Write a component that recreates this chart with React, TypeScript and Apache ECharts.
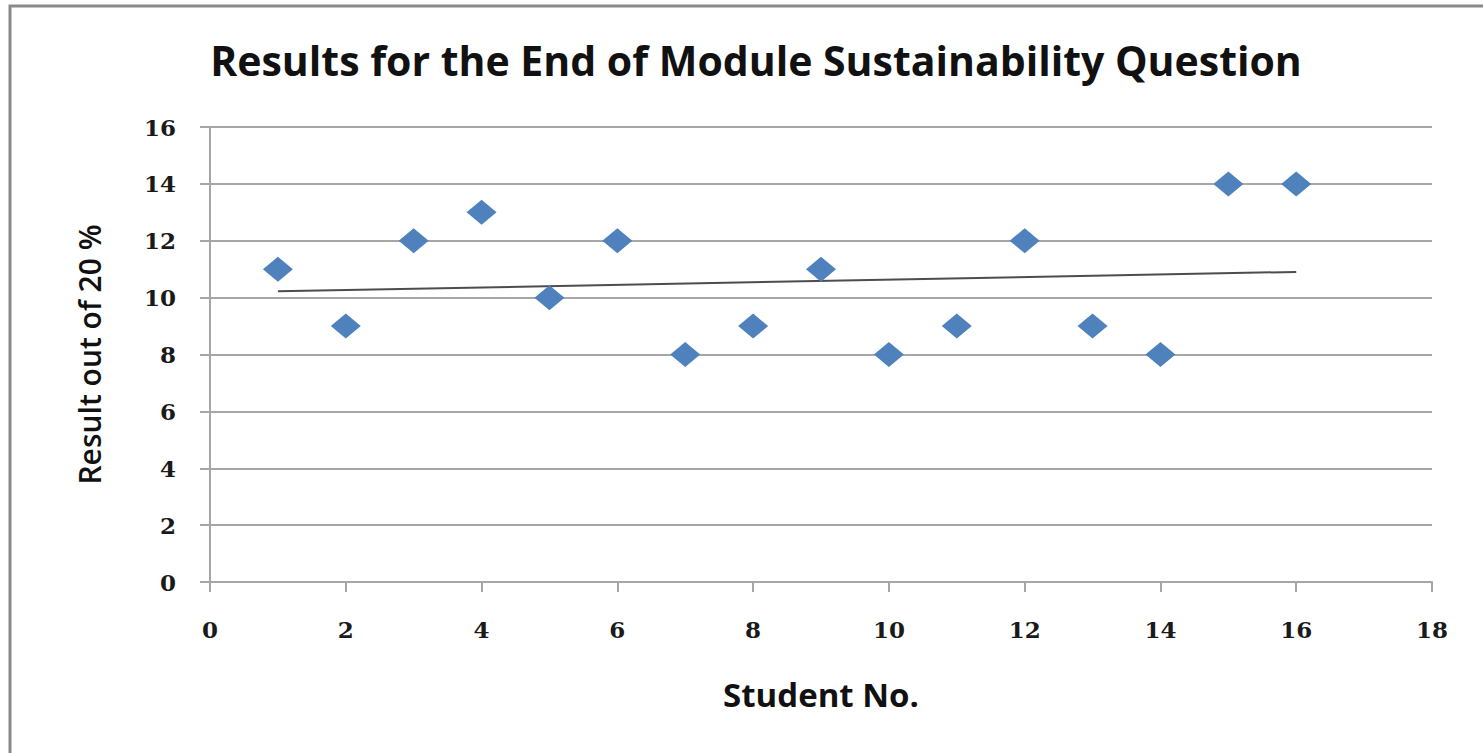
import React, { useEffect, useRef } from "react";
import * as echarts from "echarts";

const studentNo: number[] = [1, 2, 3, 4, 5, 6, 7, 8, 9, 10, 11, 12, 13, 14, 15, 16];
const results: number[] = [11, 9, 12, 13, 10, 12, 8, 9, 11, 8, 9, 12, 9, 8, 14, 14];
const titleText = "Results for the End of Module Sustainability Question";
const xName = "Student No.";
const yName = "Result out of 20 %";

function linearFit(xs: number[], ys: number[]) {
  const n = xs.length;
  const mx = xs.reduce((a, b) => a + b, 0) / n;
  const my = ys.reduce((a, b) => a + b, 0) / n;
  let sxy = 0;
  let sxx = 0;
  for (let i = 0; i < n; i++) {
    sxy += (xs[i] - mx) * (ys[i] - my);
    sxx += (xs[i] - mx) * (xs[i] - mx);
  }
  const slope = sxy / sxx;
  const intercept = my - slope * mx;
  return { slope, intercept };
}

export default function App() {
  const ref = useRef<HTMLDivElement>(null);
  useEffect(() => {
    if (!ref.current) return;
    const chart = echarts.init(ref.current, undefined, { renderer: "svg" });
    const fit = linearFit(studentNo, results);
    const x0 = studentNo[0];
    const x1 = studentNo[studentNo.length - 1];
    const trend = [
      [x0, fit.intercept + fit.slope * x0],
      [x1, fit.intercept + fit.slope * x1],
    ];
    const tickFont = {
      fontFamily: "DejaVu Serif",
      fontWeight: "bold" as const,
      fontSize: 23,
      color: "#1a1a1a",
    };
    chart.setOption({
      animation: false,
      backgroundColor: "#ffffff",
      title: {
        text: titleText,
        left: 751,
        top: 55,
        textAlign: "center",
        textVerticalAlign: "middle",
        textStyle: {
          fontFamily: "Open Sans",
          fontWeight: "bold",
          fontSize: 41,
          color: "#111111",
        },
      },
      graphic: [
        {
          type: "rect",
          shape: { x: 10, y: 6, width: 1520, height: 800 },
          style: { fill: "none", stroke: "#8a8a8a", lineWidth: 3 },
          silent: true,
        },
      ],
      grid: { left: 210, right: 51, top: 127, bottom: 171 },
      xAxis: {
        type: "value",
        min: 0,
        max: 18,
        interval: 2,
        name: xName,
        nameLocation: "middle",
        nameGap: 96,
        nameTextStyle: {
          fontFamily: "Open Sans",
          fontWeight: "bold",
          fontSize: 33,
          color: "#111111",
        },
        axisLine: { lineStyle: { color: "#a6a6a6", width: 2 } },
        axisTick: { show: true, length: 10, lineStyle: { color: "#a6a6a6", width: 2 } },
        axisLabel: { ...tickFont, margin: 36 },
        splitLine: { show: false },
      },
      yAxis: {
        type: "value",
        min: 0,
        max: 16,
        interval: 2,
        name: yName,
        nameLocation: "middle",
        nameGap: 106,
        nameTextStyle: {
          fontFamily: "Open Sans",
          fontWeight: 600,
          fontSize: 30,
          color: "#111111",
        },
        axisLine: { show: true, lineStyle: { color: "#a6a6a6", width: 2 } },
        axisTick: { show: true, length: 10, lineStyle: { color: "#a6a6a6", width: 2 } },
        axisLabel: { ...tickFont, margin: 34 },
        splitLine: { show: true, lineStyle: { color: "#a6a6a6", width: 2 } },
      },
      series: [
        {
          type: "line",
          data: trend,
          symbol: "none",
          lineStyle: { color: "#4d4d4d", width: 2 },
          z: 2,
        },
        {
          type: "scatter",
          data: studentNo.map((x, i) => [x, results[i]]),
          symbol: "diamond",
          symbolSize: [30, 25],
          itemStyle: { color: "#4f81bd", opacity: 1 },
          z: 3,
        },
      ],
    });
    return () => chart.dispose();
  }, []);
  return (
    <div
      ref={ref}
      style={{ position: "fixed", left: 0, top: 0, width: 1483, height: 753, background: "#fff" }}
    />
  );
}
